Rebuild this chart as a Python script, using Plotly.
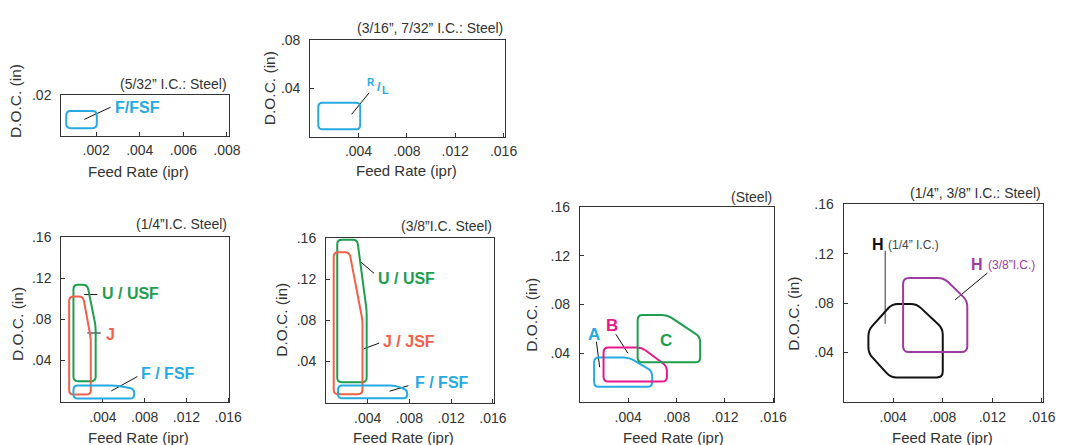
import math
import plotly.graph_objects as go

W, H = 1068, 445

# ---------------- data ----------------
X_TICKS_SMALL = [0.002, 0.004, 0.006, 0.008]
X_TICKS_SMALL_TXT = [".002", ".004", ".006", ".008"]
X_TICKS = [0.004, 0.008, 0.012, 0.016]
X_TICKS_TXT = [".004", ".008", ".012", ".016"]
Y_TICKS_P1 = [0.02]
Y_TICKS_P1_TXT = [".02"]
Y_TICKS_P2 = [0.04, 0.08]
Y_TICKS_P2_TXT = [".04", ".08"]
Y_TICKS = [0.04, 0.08, 0.12, 0.16]
Y_TICKS_TXT = [".04", ".08", ".12", ".16"]

TITLES = ["(5/32\u201d I.C.: Steel)", "(3/16\u201d, 7/32\u201d I.C.: Steel)",
          "(1/4\u201dI.C. Steel)", "(3/8\u201dI.C. Steel)", "(Steel)",
          "(1/4\u201d, 3/8\u201d I.C.: Steel)"]

# region outlines (feed ipr, doc in)
P1_FSF_X = [0.00063, 0.00203, 0.00203, 0.00063]
P1_FSF_Y = [0.0037, 0.0037, 0.0122, 0.0122]
P2_RL_X = [0.00067, 0.00414, 0.00414, 0.00067]
P2_RL_Y = [0.0061, 0.0061, 0.0281, 0.0281]
P3_U_X = [0.00117, 0.0033, 0.0033, 0.0025, 0.00117]
P3_U_Y = [0.020, 0.020, 0.0733, 0.1136, 0.1136]
P3_J_X = [0.00076, 0.00283, 0.00283, 0.0021, 0.00076]
P3_J_Y = [0.007, 0.007, 0.062, 0.102, 0.102]
P3_F_X = [0.00117, 0.0070, 0.0070, 0.0052, 0.00117]
P3_F_Y = [0.0031, 0.0031, 0.0125, 0.0159, 0.0159]
P4_U_X = [0.00108, 0.0039, 0.0039, 0.0030, 0.00108]
P4_U_Y = [0.020, 0.020, 0.0894, 0.158, 0.158]
P4_J_X = [0.00074, 0.0035, 0.0035, 0.00225, 0.00074]
P4_J_Y = [0.0083, 0.0083, 0.080, 0.146, 0.146]
P4_F_X = [0.00115, 0.0078, 0.0078, 0.00665, 0.00115]
P4_F_Y = [0.0043, 0.0043, 0.0121, 0.0168, 0.0168]
P5_A_X = [0.00118, 0.00598, 0.00598, 0.00405, 0.00118]
P5_A_Y = [0.0123, 0.0123, 0.0252, 0.0365, 0.0365]
P5_B_X = [0.00196, 0.0072, 0.0072, 0.00512, 0.00196]
P5_B_Y = [0.0166, 0.0166, 0.0293, 0.0446, 0.0446]
P5_C_X = [0.00478, 0.00995, 0.00995, 0.00722, 0.00478]
P5_C_Y = [0.0325, 0.0325, 0.0535, 0.0715, 0.0715]
P6_H14_X = [0.0038, 0.0080, 0.0080, 0.0059, 0.0039, 0.0020, 0.0020]
P6_H14_Y = [0.0197, 0.0197, 0.0594, 0.0792, 0.0792, 0.058, 0.0395]
P6_H38_X = [0.0048, 0.00998, 0.00998, 0.00809, 0.0048]
P6_H38_Y = [0.0403, 0.0403, 0.0819, 0.1004, 0.1004]

# leader lines
P1_LEAD = ([0.00146, 0.00266], [0.0081, 0.0141])
P2_LEAD = ([0.00342, 0.00488], [0.0185, 0.0364])
P3_LEAD_U = ([0.0022, 0.00346], [0.104, 0.104])
P3_LEAD_J = ([0.0025, 0.0038], [0.0667, 0.0667])
P3_LEAD_F = ([0.0048, 0.0073], [0.0105, 0.0245])
P4_LEAD_U = ([0.00328, 0.0046], [0.137, 0.1256])
P4_LEAD_J = ([0.0036, 0.0051], [0.0522, 0.0579])
P4_LEAD_F = ([0.0061, 0.0079], [0.0112, 0.0166])
P5_LEAD_A = ([0.00137, 0.00164], [0.0494, 0.0285])
P5_LEAD_B = ([0.00298, 0.00397], [0.0556, 0.040])
P6_LEAD_H14 = ([0.00336, 0.00336], [0.1224, 0.0633])
P6_LEAD_H38 = ([0.0116, 0.0090], [0.1044, 0.0827])

# ---------------- styles / layout ----------------
BLUE = "#27aae1"
GREEN = "#1e9e4f"
RED = "#f0604a"
MAG = "#e5198a"
PURP = "#9d3c9f"
BLK = "#111111"
TXT = "#333333"
FONT = "Liberation Sans, Arial, Helvetica, sans-serif"

# pixel boxes: (x0, x1, ytop, ybottom), axis ranges
BOXES = [
    ((62, 232, 89, 130), [0.0004, 0.0081], [0, 0.02]),
    ((314, 511, 33, 131), [0, 0.0161], [0, 0.08]),
    ((62, 232, 233, 401), [0, 0.0161], [0, 0.16]),
    ((330, 500, 234, 402), [0, 0.0161], [0, 0.16]),
    ((587, 784, 203, 401), [0, 0.0161], [0, 0.16]),
    ((854, 1056, 200, 401), [0, 0.0161], [0, 0.16]),
]
XT = [(X_TICKS_SMALL, X_TICKS_SMALL_TXT)] + [(X_TICKS, X_TICKS_TXT)] * 5
YT = [(Y_TICKS_P1, Y_TICKS_P1_TXT), (Y_TICKS_P2, Y_TICKS_P2_TXT)] + [(Y_TICKS, Y_TICKS_TXT)] * 4
TITLE_POS = [(232, 77), (511, 20), (232, 220), (500, 222), (784, 192), (1056, 188)]
YTITLE_POS = [(15, 95), (273, 82), (17, 322), (285, 318), (538, 312), (803, 311)]
XTITLE_POS = [(140, 166), (412, 165), (140, 437), (408, 437), (682, 437), (954, 437)]

fig = go.Figure()
layout = dict(width=W, height=H, autosize=False, margin=dict(l=0, r=0, t=0, b=0),
              paper_bgcolor="white", plot_bgcolor="white", showlegend=False,
              font=dict(family=FONT, color=TXT, size=14))
annotations = []
shapes = []


def px(v):
    return v / W


def py(v):
    return 1 - v / H


for i, ((x0, x1, yt, yb), xr, yr) in enumerate(BOXES):
    k = "" if i == 0 else str(i + 1)
    layout["xaxis" + k] = dict(domain=[px(x0), px(x1)], range=xr, anchor="y" + k,
                               showgrid=False, zeroline=False, showline=True, mirror=True,
                               linecolor="#333", linewidth=1, ticks="inside", ticklen=4,
                               tickcolor="#333", tickvals=XT[i][0], ticktext=XT[i][1],
                               tickfont=dict(size=14, color=TXT), fixedrange=True,
                               ticklabelstandoff=2)
    layout["yaxis" + k] = dict(domain=[py(yb), py(yt)], range=yr, anchor="x" + k,
                               showgrid=False, zeroline=False, showline=True, mirror=True,
                               linecolor="#333", linewidth=1, ticks="inside", ticklen=4,
                               tickcolor="#333", tickvals=YT[i][0], ticktext=YT[i][1],
                               tickfont=dict(size=14, color=TXT), fixedrange=True,
                               ticklabelstandoff=6)
    tx, ty = TITLE_POS[i]
    annotations.append(dict(text=TITLES[i], x=px(tx), y=py(ty), xref="paper", yref="paper",
                            xanchor="right", yanchor="middle", showarrow=False,
                            font=dict(size=14, color=TXT)))
    ax_, ay_ = YTITLE_POS[i]
    annotations.append(dict(text="D.O.C. (in)", x=px(ax_), y=py(ay_), xref="paper", yref="paper",
                            xanchor="center", yanchor="middle", textangle=-90, showarrow=False,
                            font=dict(size=15.5, color=TXT)))
    bx, by = XTITLE_POS[i]
    annotations.append(dict(text="Feed Rate (ipr)", x=px(bx), y=py(by), xref="paper", yref="paper",
                            xanchor="center", yanchor="middle", showarrow=False,
                            font=dict(size=15, color=TXT)))


def scales(i):
    (x0, x1, yt, yb), xr, yr = BOXES[i]
    return (x1 - x0) / (xr[1] - xr[0]), (yb - yt) / (yr[1] - yr[0])


def rounded(i, xs, ys, color, r=4.5, width=2):
    sx, sy = scales(i)
    pts = [(x * sx, y * sy) for x, y in zip(xs, ys)]
    n = len(pts)
    parts = []
    for j in range(n):
        p0, p1, p2 = pts[j - 1], pts[j], pts[(j + 1) % n]
        d1 = (p0[0] - p1[0], p0[1] - p1[1])
        d2 = (p2[0] - p1[0], p2[1] - p1[1])
        l1 = math.hypot(*d1)
        l2 = math.hypot(*d2)
        rr = min(r, l1 / 2, l2 / 2)
        a = (p1[0] + d1[0] / l1 * rr, p1[1] + d1[1] / l1 * rr)
        b = (p1[0] + d2[0] / l2 * rr, p1[1] + d2[1] / l2 * rr)
        parts.append((a, p1, b))

    def f(p):
        return f"{p[0] / sx:.7f},{p[1] / sy:.7f}"

    path = "M " + f(parts[0][0])
    for a, c, b in parts:
        path += " L " + f(a) + " Q " + f(c) + " " + f(b)
    path += " Z"
    k = "" if i == 0 else str(i + 1)
    shapes.append(dict(type="path", path=path, xref="x" + k, yref="y" + k,
                       line=dict(color=color, width=width), layer="above"))


def lead(i, xy, color=BLK, width=1):
    k = "" if i == 0 else str(i + 1)
    fig.add_trace(go.Scatter(x=xy[0], y=xy[1], mode="lines", xaxis="x" + k, yaxis="y" + k,
                             line=dict(color=color, width=width), hoverinfo="skip"))


def label(i, text, x, y, color, size=16, anchor="center", pad=1):
    k = "" if i == 0 else str(i + 1)
    annotations.append(dict(text=text, x=x, y=y, xref="x" + k, yref="y" + k, xanchor=anchor,
                            yanchor="middle", showarrow=False, borderpad=pad,
                            font=dict(size=size, color=color, family=FONT)))


# plot 1
rounded(0, P1_FSF_X, P1_FSF_Y, BLUE)
lead(0, P1_LEAD)
label(0, "<b>F/FSF</b>", 0.0039, 0.0138, BLUE)
# plot 2  (stacked R / L glyph)
rounded(1, P2_RL_X, P2_RL_Y, BLUE)
lead(1, P2_LEAD)
label(1, "<b>R</b>", 0.00506, 0.0452, BLUE, size=10, pad=0)
label(1, "<b>/</b>", 0.00566, 0.0419, BLUE, size=13, pad=0)
label(1, "<b>L</b>", 0.00626, 0.0386, BLUE, size=11, pad=0)
# plot 3
rounded(2, P3_U_X, P3_U_Y, GREEN)
rounded(2, P3_J_X, P3_J_Y, RED)
rounded(2, P3_F_X, P3_F_Y, BLUE)
lead(2, P3_LEAD_U)
lead(2, P3_LEAD_J)
lead(2, P3_LEAD_F)
label(2, "<b>U / USF</b>", 0.0066, 0.1048, GREEN)
label(2, "<b>J</b>", 0.0047, 0.0657, RED)
label(2, "<b>F / FSF</b>", 0.0102, 0.027, BLUE)
# plot 4
rounded(3, P4_U_X, P4_U_Y, GREEN)
rounded(3, P4_J_X, P4_J_Y, RED)
rounded(3, P4_F_X, P4_F_Y, BLUE)
lead(3, P4_LEAD_U)
lead(3, P4_LEAD_J)
lead(3, P4_LEAD_F)
label(3, "<b>U / USF</b>", 0.0077, 0.1206, GREEN)
label(3, "<b>J / JSF</b>", 0.0080, 0.0591, RED)
label(3, "<b>F / FSF</b>", 0.0111, 0.0197, BLUE)
# plot 5
rounded(4, P5_A_X, P5_A_Y, BLUE, r=5)
rounded(4, P5_B_X, P5_B_Y, MAG, r=5)
rounded(4, P5_C_X, P5_C_Y, GREEN, r=5)
lead(4, P5_LEAD_A)
lead(4, P5_LEAD_B)
label(4, "<b>A</b>", 0.0012, 0.0556, BLUE, size=17)
label(4, "<b>B</b>", 0.0027, 0.0629, MAG, size=17)
label(4, "<b>C</b>", 0.00713, 0.0508, GREEN, size=17)
# plot 6
rounded(5, P6_H14_X, P6_H14_Y, BLK, r=6)
rounded(5, P6_H38_X, P6_H38_Y, PURP, r=6)
lead(5, P6_LEAD_H14, color="#777777", width=1.5)
lead(5, P6_LEAD_H38)
label(5, "<b>H</b>", 0.00276, 0.1274, BLK, size=16)
label(5, "(1/4\u201d I.C.)", 0.00563, 0.1270, "#444444", size=12)
label(5, "<b>H</b>", 0.01075, 0.111, PURP, size=16)
label(5, "(3/8\u201dI.C.)", 0.01353, 0.1105, PURP, size=12)

layout["annotations"] = annotations
layout["shapes"] = shapes
fig.update_layout(**layout)
fig.write_html("out.html", config={"displayModeBar": False},
               post_script="document.body.style.margin='0';document.body.style.overflow='hidden';")
